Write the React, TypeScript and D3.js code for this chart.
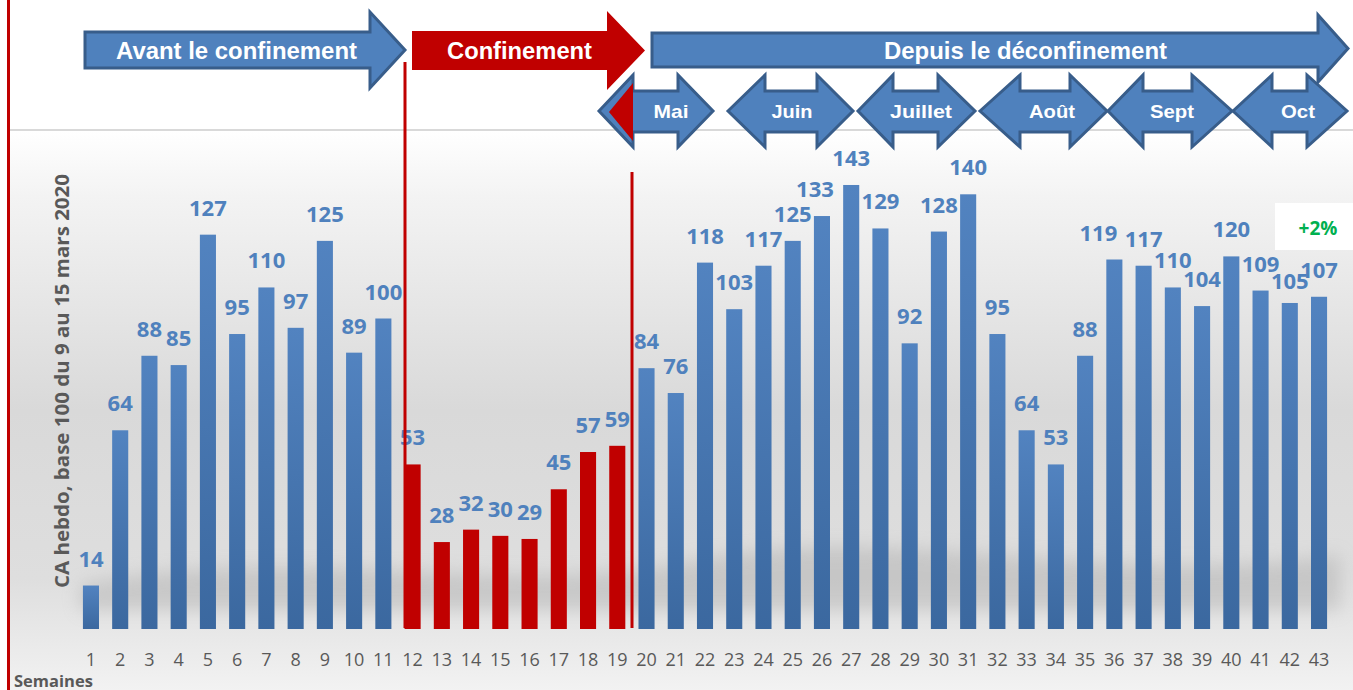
import React from 'react';
import * as d3 from 'd3';

// weekly turnover, index 100 = week of 9-15 March 2020
const weeks = d3.range(1, 44).map(String);
const values = [14, 64, 88, 85, 127, 95, 110, 97, 125, 89, 100, 53, 28, 32, 30, 29, 45, 57, 59, 84, 76, 118, 103, 117, 125, 133, 143, 129, 92, 128, 140, 95, 64, 53, 88, 119, 117, 110, 104, 120, 109, 105, 107];
const lockdownWeeks = ['12', '13', '14', '15', '16', '17', '18', '19'];
const periodLabels = ['Avant le confinement', 'Confinement', 'Depuis le déconfinement'];
const monthLabels = ['Mai', 'Juin', 'Juillet', 'Août', 'Sept', 'Oct'];
const yLabel = 'CA hebdo, base 100 du 9 au 15 mars 2020';
const xLabel = 'Semaines';
const changeLabel = '+2%';

const W = 1353;
const H = 690;
const base = 629;
const plotTop = 130;

const BLUE = '#4f81bd';
const BLUE_EDGE = '#385d8a';
const RED = '#c00000';
const GREY = '#595959';

// label nudges where the labels would collide (week -> [dx, dy])
const labelNudge: Record<string, [number, number]> = { '26': [-7, 0], '36': [-16, 0], '42': [0, 5] };

// period arrows
const periodGeom = [
  { x0: 85, xh: 370, tip: 405, bt: 32, bb: 68, ht: 12, hb: 88, tx: 236.5, tw: 241, fill: BLUE, stroke: BLUE_EDGE },
  { x0: 412, xh: 607, tip: 645, bt: 31, bb: 70, ht: 11, hb: 90, tx: 519.5, tw: 145, fill: RED, stroke: 'none' },
  { x0: 652, xh: 1318, tip: 1348, bt: 33, bb: 67, ht: 15, hb: 82, tx: 1025.5, tw: 283, fill: BLUE, stroke: BLUE_EDGE },
];
// month double arrows: left tip, left head end, right head start, right tip, text centre, text width
const monthGeom = [
  [599, 633, 678, 713, 671, 35],
  [728, 765, 817, 853, 792, 41],
  [858, 893, 938, 975, 921, 62],
  [980, 1020, 1070, 1107, 1052, 46],
  [1108, 1143, 1192, 1232, 1172, 44],
  [1233, 1272, 1307, 1347, 1298, 34],
];

const rightArrow = (g: any) => {
  const my = (g.ht + g.hb) / 2;
  return `M${g.x0},${g.bt}L${g.xh},${g.bt}L${g.xh},${g.ht}L${g.tip},${my}L${g.xh},${g.hb}L${g.xh},${g.bb}L${g.x0},${g.bb}Z`;
};

const doubleArrow = (m: number[]) => {
  const [a, b, c, d] = m;
  const ht = 75, hb = 147, bt = 91, bb = 132, my = 111;
  return `M${a},${my}L${b},${ht}L${b},${bt}L${c},${bt}L${c},${ht}L${d},${my}L${c},${hb}L${c},${bb}L${b},${bb}L${b},${hb}Z`;
};

export default function App() {
  const x = d3.scaleBand<string>().domain(weeks).range([68.3, 1341.7]).paddingInner(0.45).paddingOuter(0.5);
  const y = d3.scaleLinear().domain([0, 160]).range([base, base - 160 * 3.105]);
  const numFont = '"Open Sans", sans-serif';
  const arialFont = '"Liberation Sans", Arial, sans-serif';
  const cx = (wk: string) => (x(wk) as number) + x.bandwidth() / 2;

  return (
    <svg width={W} height={H} style={{ position: 'absolute', left: 0, top: 0, display: 'block' }}>
      <defs>
        <linearGradient id="bg" x1="0" y1="0" x2="0" y2="1">
          <stop offset="0" stopColor="#ffffff" />
          <stop offset="0.12" stopColor="#f3f3f3" />
          <stop offset="0.5" stopColor="#d9d9d9" />
          <stop offset="0.8" stopColor="#dedede" />
          <stop offset="1" stopColor="#f2f2f2" />
        </linearGradient>
        <linearGradient id="barBlue" x1="0" y1="0" x2="0" y2="1">
          <stop offset="0" stopColor="#5283c0" />
          <stop offset="1" stopColor="#3b689f" />
        </linearGradient>
        <filter id="blur" x="-10%" y="-100%" width="120%" height="300%">
          <feGaussianBlur stdDeviation="9" />
        </filter>
      </defs>

      <rect x={10} y={plotTop} width={W - 10} height={H - plotTop} fill="url(#bg)" />
      <line x1={10} x2={W} y1={plotTop} y2={plotTop} stroke="#d9d9d9" strokeWidth={2} />

      {/* soft reflection under the bars */}
      <path
        d={`M80,585 C300,540 500,600 700,560 C900,520 1100,590 1340,555 L1340,610 L80,610 Z`}
        fill="#9c9c9c"
        opacity={0.35}
        filter="url(#blur)"
      />

      {values.map((v, i) => {
        const wk = weeks[i];
        const red = lockdownWeeks.includes(wk);
        return (
          <rect
            key={wk}
            x={x(wk)}
            y={y(v)}
            width={x.bandwidth()}
            height={base - y(v)}
            fill={red ? RED : 'url(#barBlue)'}
          />
        );
      })}

      {values.map((v, i) => {
        const wk = weeks[i];
        const [dx, dy] = labelNudge[wk] || [0, 0];
        return (
          <text
            key={'v' + i}
            x={cx(wk) + dx}
            y={y(v) - 19 + dy}
            textAnchor="middle"
            fontFamily={numFont}
            fontWeight={700}
            fontSize={22}
            fill={BLUE}
          >
            {v}
          </text>
        );
      })}

      {weeks.map((wk) => (
        <text key={'t' + wk} x={cx(wk)} y={666} textAnchor="middle" fontFamily={numFont} fontSize={18} fill={GREY}>
          {wk}
        </text>
      ))}

      <text x={14} y={687} fontFamily={numFont} fontWeight={700} fontSize={16.5} fill={GREY}>
        {xLabel}
      </text>
      <text
        transform="translate(69,381) rotate(-90)"
        textAnchor="middle"
        fontFamily={numFont}
        fontWeight={700}
        fontSize={19.5}
        fill={GREY}
        textLength={414}
        lengthAdjust="spacingAndGlyphs"
      >
        {yLabel}
      </text>

      <rect x={1275} y={203} width={78} height={47} fill="#ffffff" />
      <text x={1318} y={235} textAnchor="middle" fontFamily={numFont} fontWeight={700} fontSize={19} fill="#00b050">
        {changeLabel}
      </text>

      {/* period arrows */}
      {periodGeom.map((g, i) => (
        <g key={'p' + i}>
          <path d={rightArrow(g)} fill={g.fill} stroke={g.stroke} strokeWidth={3} strokeLinejoin="miter" />
          <text
            x={g.tx}
            y={59}
            textAnchor="middle"
            fontFamily={arialFont}
            fontWeight={700}
            fontSize={24}
            fill="#ffffff"
            textLength={g.tw}
            lengthAdjust="spacingAndGlyphs"
          >
            {periodLabels[i]}
          </text>
        </g>
      ))}

      {/* month arrows */}
      {monthGeom.map((m, i) => (
        <g key={'m' + i}>
          <path d={doubleArrow(m)} fill={BLUE} stroke={BLUE_EDGE} strokeWidth={3} strokeLinejoin="miter" />
          <text
            x={m[4]}
            y={118}
            textAnchor="middle"
            fontFamily={arialFont}
            fontWeight={700}
            fontSize={19}
            fill="#ffffff"
            textLength={m[5]}
            lengthAdjust="spacingAndGlyphs"
          >
            {monthLabels[i]}
          </text>
        </g>
      ))}
      <path d="M609,112L633,83L633,141Z" fill={RED} />

      {/* lockdown markers */}
      <line x1={405} x2={405} y1={62} y2={628} stroke={RED} strokeWidth={3} />
      <line x1={632} x2={632} y1={172} y2={628} stroke={RED} strokeWidth={3} />
      <line x1={8.5} x2={8.5} y1={0} y2={H} stroke={RED} strokeWidth={3} />
    </svg>
  );
}
